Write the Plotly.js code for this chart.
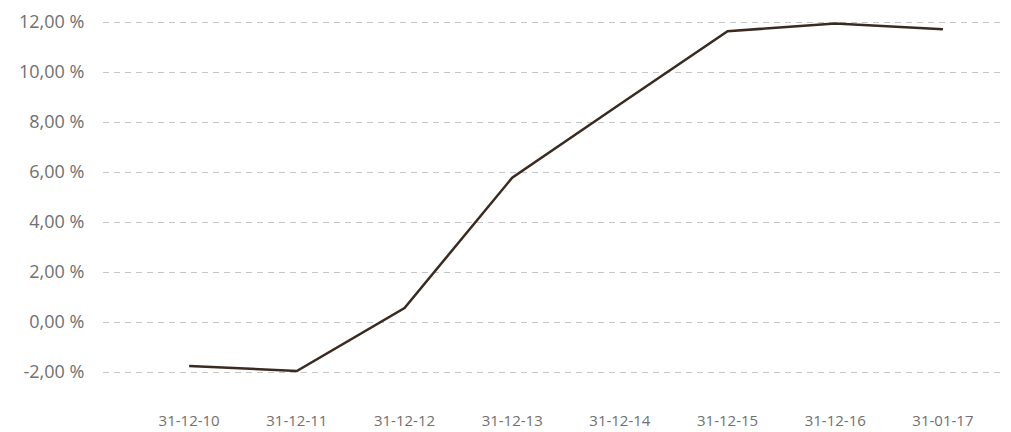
<!DOCTYPE html>
<html>
<head>
<meta charset="utf-8">
<script src="https://cdn.plot.ly/plotly-3.0.1.min.js"></script>
<style>html,body{margin:0;padding:0;background:#fff;}#chart{width:1011px;height:432px;}</style>
</head>
<body>
<div id="chart"></div>
<script>
const dates = ["31-12-10","31-12-11","31-12-12","31-12-13","31-12-14","31-12-15","31-12-16","31-01-17"];
const values = [-1.76, -1.96, 0.56, 5.77, 8.71, 11.63, 11.94, 11.71];
const yTickVals = [-2, 0, 2, 4, 6, 8, 10, 12];
const yTickText = ["-2,00 %","0,00 %","2,00 %","4,00 %","6,00 %","8,00 %","10,00 %","12,00 %"];

const trace = {
  x: dates.map((d, i) => i),
  y: values,
  type: 'scatter',
  mode: 'lines',
  line: {color: '#3b2a1f', width: 2.5},
  hoverinfo: 'skip'
};

const layout = {
  width: 1011, height: 432,
  margin: {l: 103, r: 11, t: 10, b: 22},
  paper_bgcolor: '#fff', plot_bgcolor: '#fff',
  showlegend: false,
  font: {family: 'Open Sans, sans-serif', size: 14, color: '#707070'},
  xaxis: {
    range: [-0.8, 7.53],
    tickvals: dates.map((d, i) => i),
    ticktext: dates,
    showgrid: false, zeroline: false, showline: false,
    ticks: '',
    tickfont: {size: 15, color: '#707070'}
  },
  yaxis: {
    range: [-3.52, 12.48],
    tickvals: yTickVals,
    ticktext: yTickText,
    showgrid: true, gridcolor: '#c6c6c6', gridwidth: 1, griddash: '6px,5px',
    zeroline: false, showline: false,
    ticks: 'outside', ticklen: 14, tickcolor: 'rgba(0,0,0,0)',
    tickfont: {size: 18, color: '#707070'}
  }
};

Plotly.newPlot('chart', [trace], layout, {displayModeBar: false, staticPlot: true});
</script>
</body>
</html>
